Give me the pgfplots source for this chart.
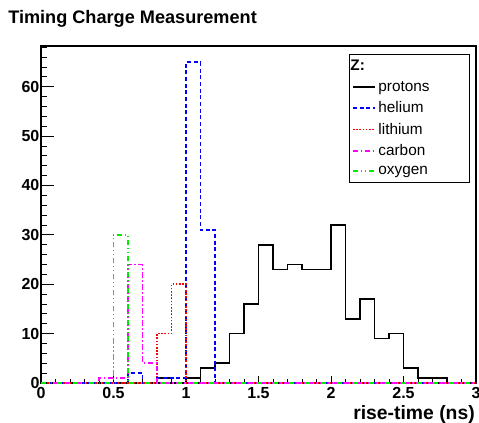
\documentclass[border=0pt]{standalone}
\usepackage{fontspec}
\setmainfont{Liberation Sans}
\usepackage{pgfplots}
\pgfplotsset{compat=1.18}
\definecolor{cPro}{RGB}{0,0,0}
\definecolor{cHe}{RGB}{0,0,255}
\definecolor{cLi}{RGB}{255,0,0}
\definecolor{cC}{RGB}{255,0,255}
\definecolor{cO}{RGB}{0,235,0}
\pgfplotsset{
  histframe/.style={
    scale only axis, width=326.25pt, height=252.75pt,
    at={(30.75pt,29.25pt)}, anchor=south west,
    xmin=0, xmax=3, ymin=0, ymax=68.25,
    tick align=inside, tick pos=left,
    ytick={0,10,...,60}, minor ytick={2,4,...,68},
    tick style={line width=0.6pt, black},
  },
}
\begin{document}
\begin{tikzpicture}
% long y ticks (ROOT draws them longer than the x ticks)
\begin{axis}[histframe,
  axis line style={draw=none},
  xtick=\empty, yticklabels={},
  major tick length=9.75pt, minor tick length=4.5pt]
\end{axis}
\begin{axis}[histframe,
  clip=false,
  axis line style={line width=1.5pt},
  xtick={0,0.5,...,3},
  minor xtick={0.1,0.2,...,2.95},
  major tick length=5.25pt, minor tick length=2.8pt,
  /pgf/number format/assume math mode=true,
  tick label style={font=\bfseries\fontsize{12}{14}\selectfont, inner sep=0pt},
  xticklabel style={yshift=-3pt},
  yticklabel style={xshift=-1pt},
  xlabel={rise-time (ns)},
  xlabel style={at={(rel axis cs:1,0)}, anchor=base east, inner sep=0pt,
    yshift=-27pt, xshift=-0.75pt, font=\bfseries\fontsize{14.5}{16}\selectfont},
  legend image code/.code={\draw[#1] (0pt,0pt) -- (16.5pt,0pt);},
  legend cell align=left,
  legend style={at={(0.708,0.977)}, anchor=north west, draw=black,
    line width=0.6pt, fill=white, inner xsep=2pt, inner ysep=2.5pt,
    font=\fontsize{11.5}{13}\selectfont, row sep=2.3pt},
  const plot mark left,
  every axis plot/.append style={line width=1.3pt},
]
\addlegendimage{empty legend}
\addlegendentry{\makebox[64pt][l]{\hspace*{-21pt}\bfseries Z:}}
\addplot[cPro, no marks, const plot] coordinates {
  (0,0) (0.8,1) (0.9,0) (1.0,1) (1.1,3) (1.2,4) (1.3,10) (1.4,16) (1.5,28)
  (1.6,23) (1.7,24) (1.8,23) (1.9,23) (2.0,32) (2.1,13) (2.2,17) (2.3,9)
  (2.4,10) (2.5,3) (2.6,1) (2.7,1) (2.8,0) (3.0,0)};
\addlegendentry{protons}
\addplot[cHe, no marks, const plot, dash pattern=on 3pt off 2pt] coordinates {
  (0,0) (0.6,2) (0.7,0) (0.8,1) (0.9,1) (1.0,65) (1.1,31) (1.2,0) (3.0,0)};
\addlegendentry{helium}
\addplot[cLi, no marks, const plot, dash pattern=on 1.2pt off 1.2pt] coordinates {
  (0,0) (0.8,10) (0.9,20) (1.0,0) (3.0,0)};
\addlegendentry{lithium}
\addplot[cC, no marks, const plot, dash pattern=on 4pt off 2pt on 1pt off 2pt] coordinates {
  (0,0) (0.4,1) (0.5,1) (0.6,24) (0.7,4) (0.8,0) (3.0,0)};
\addlegendentry{carbon}
\addplot[cO, no marks, const plot, dash pattern=on 4pt off 2pt on 1pt off 2pt on 1pt off 2pt] coordinates {
  (0,0) (0.5,30) (0.6,0) (3.0,0)};
\addlegendentry{oxygen}
\end{axis}
\node[anchor=base west, inner sep=0pt, font=\bfseries\fontsize{13.6}{15}\selectfont]
  at (6pt,299pt) {Timing Charge Measurement};
\pgfresetboundingbox
\path[use as bounding box] (0,0) rectangle (359.25pt,316.5pt);
\end{tikzpicture}
\end{document}
